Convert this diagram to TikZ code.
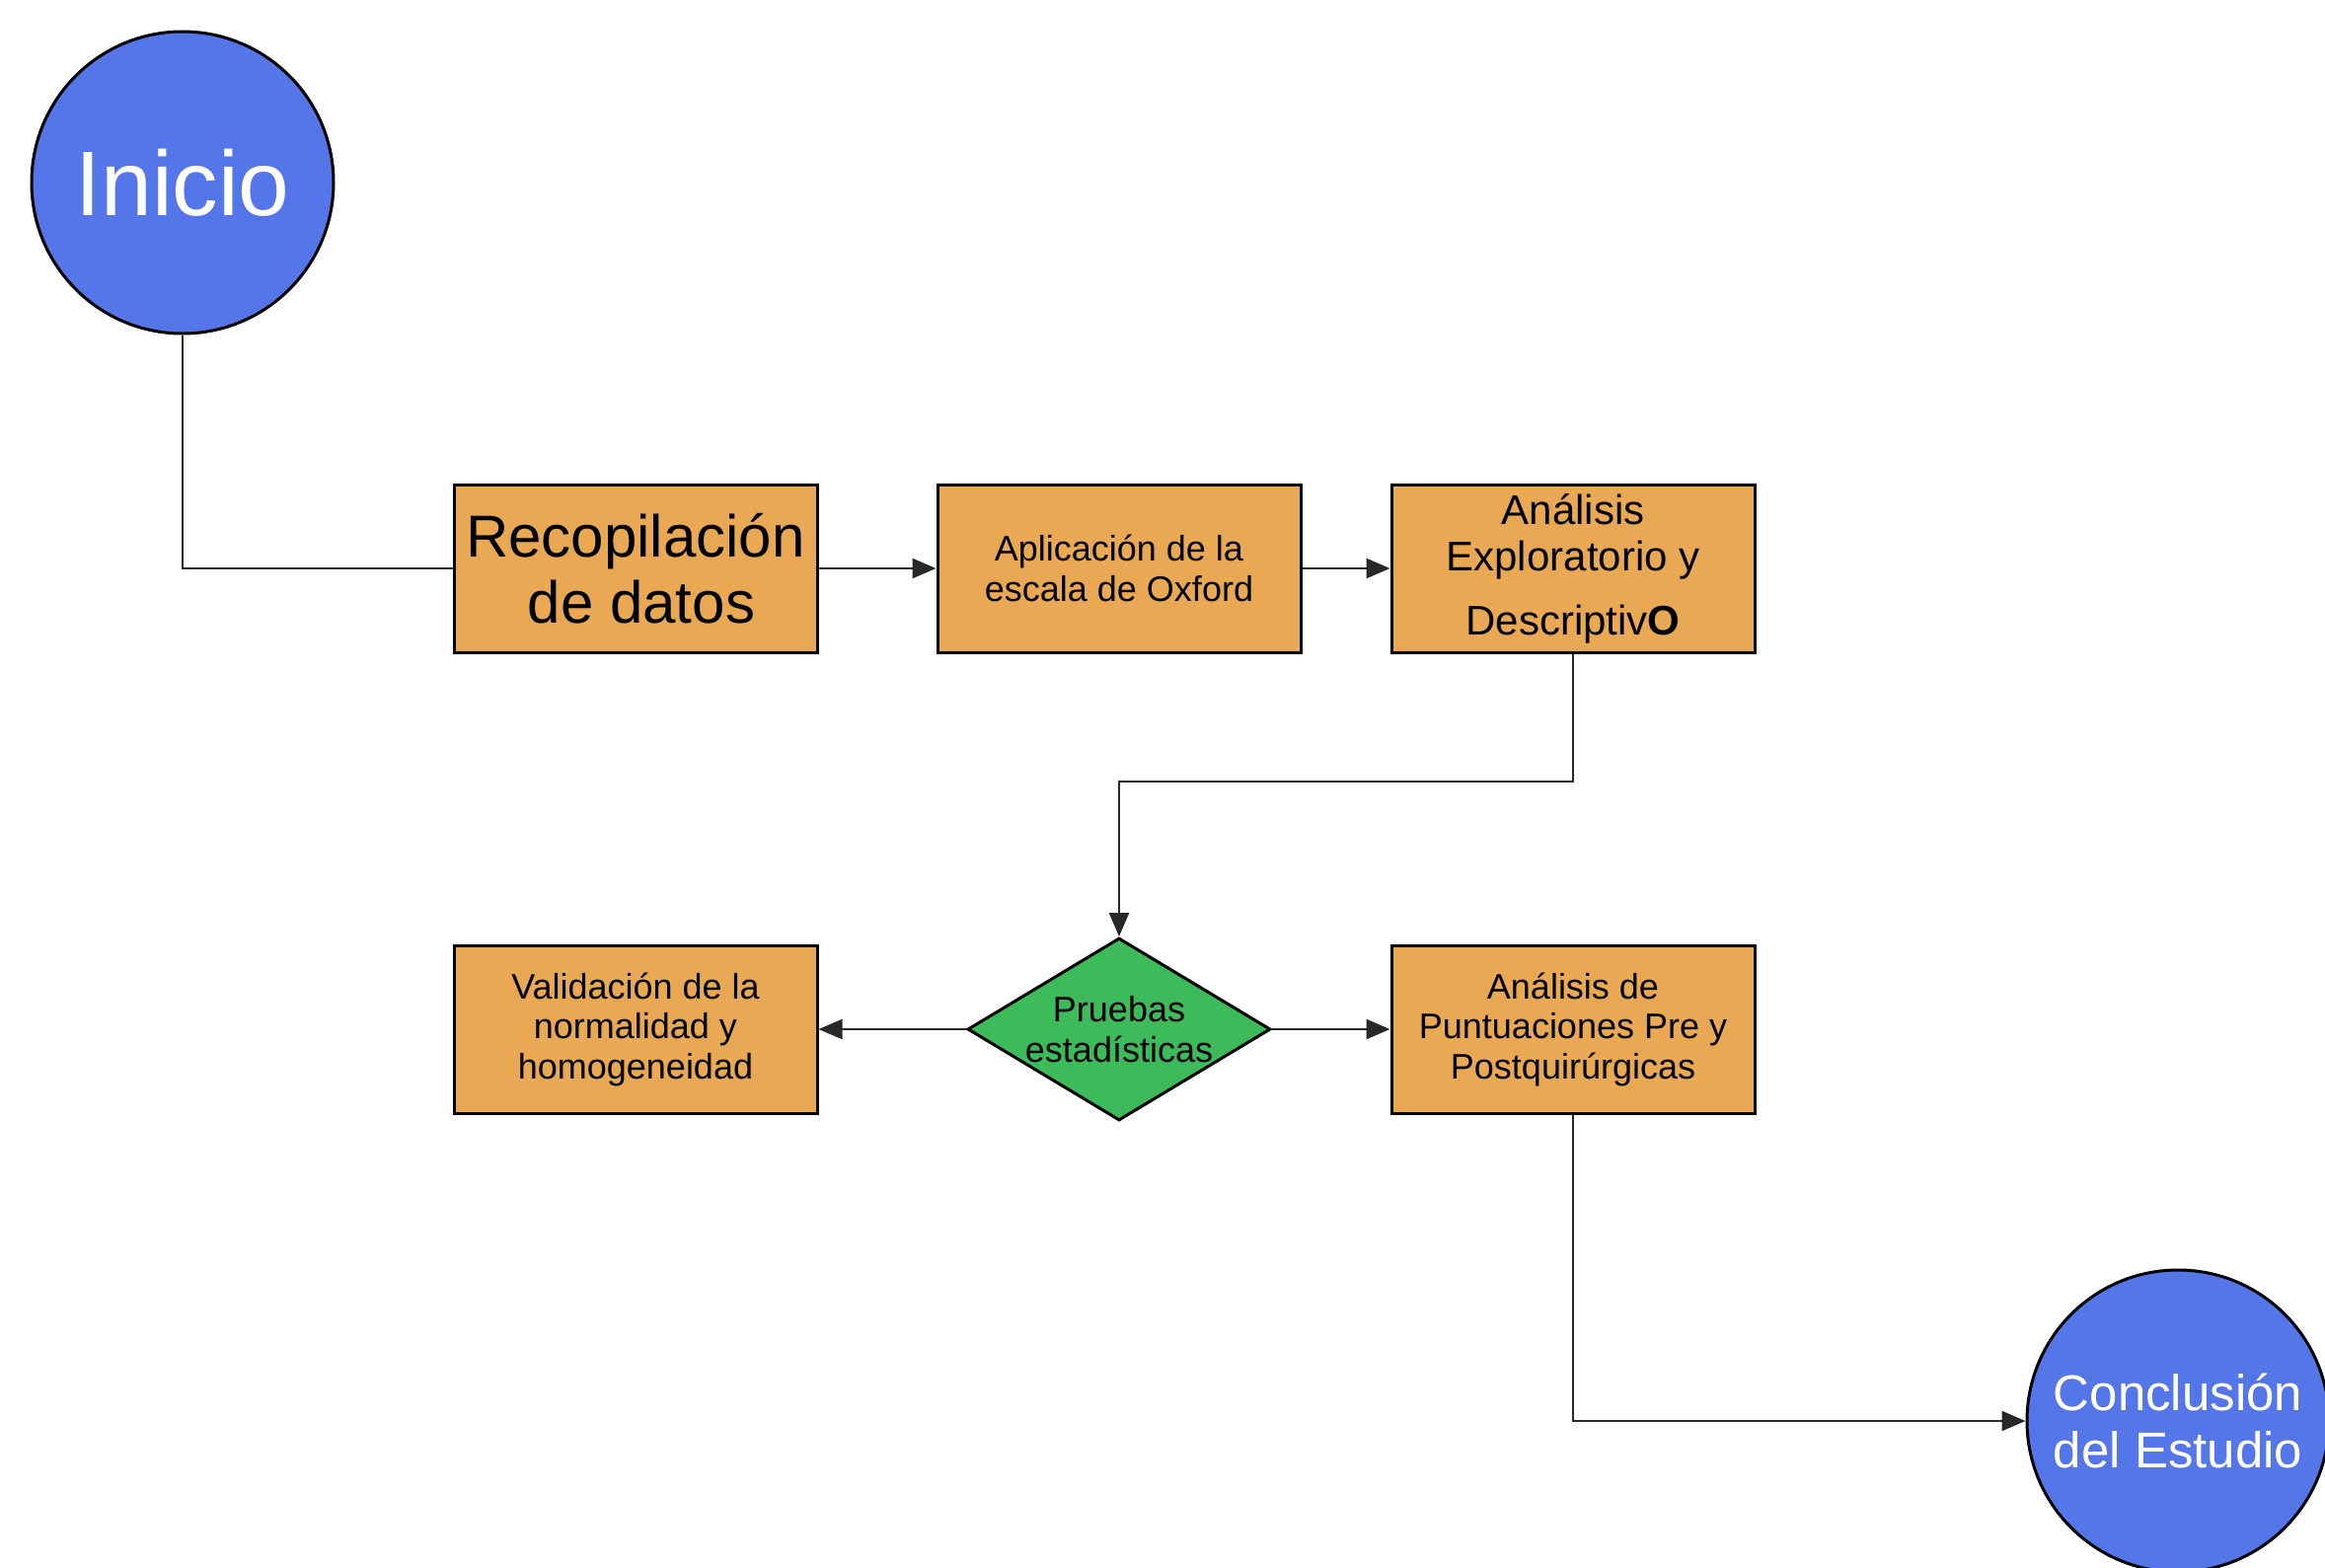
\documentclass[tikz,border=0pt]{standalone}
\usepackage{fontspec}
\setmainfont{Liberation Sans}
\usetikzlibrary{shapes.geometric,arrows.meta}
\definecolor{cblue}{RGB}{85,118,232}
\definecolor{corange}{RGB}{233,168,84}
\definecolor{cgreen}{RGB}{61,187,90}
\definecolor{cline}{RGB}{40,40,40}
\begin{document}
\begin{tikzpicture}[x=1pt,y=-1pt,
  box/.style={draw=black, line width=3pt, fill=corange, minimum width=368pt, minimum height=170pt, inner sep=0pt, align=center, text=black},
  circ/.style={circle, draw=black, line width=3pt, fill=cblue, minimum size=306pt, inner sep=0pt, align=center, text=white},
  decision/.style={diamond, draw=black, line width=3pt, fill=cgreen, minimum width=307pt, minimum height=185pt, inner sep=0pt, text=black},
  conn/.style={draw=cline, line width=2.5pt},
  arr/.style={conn, -{Triangle[length=24pt,width=20pt]}},
  fsmall/.style={font=\fontsize{36}{40.5}\selectfont}
]
\useasboundingbox (0,0) rectangle (2356,1588);
\fill[white] (0,0) rectangle (2356,1588);

\node[circ, font=\fontsize{93}{100}\selectfont] (inicio) at (185,185) {Inicio};
\node[box, font=\fontsize{60}{67}\selectfont] (recop) at (644,576) {Recopilación\\\hspace*{12pt}de datos};
\node[box, fsmall] (aplic) at (1134,576) {Aplicación de la\\escala de Oxford};
\node[box, font=\fontsize{42}{47}\selectfont] (anal) at (1594,576) {Análisis\\Exploratorio y\\[18pt]Descriptiv{\bfseries O}};
\node[box, fsmall] (valid) at (644,1043) {Validación de la\\normalidad y\\homogeneidad};
\node[decision, label={[fsmall, align=center, text=black]center:Pruebas\\estadísticas}] (prueb) at (1134,1043) {};
\node[box, fsmall] (punt) at (1594,1043) {Análisis de\\Puntuaciones Pre y\\Postquirúrgicas};
\node[circ, font=\fontsize{51}{58}\selectfont] (concl) at (2207,1440) {Conclusión\\del Estudio};

\coordinate (k1) at (1364,792);

\draw[conn] (inicio.south) |- (recop.west);
\draw[arr] (recop.east) -- (aplic.west);
\draw[arr] (aplic.east) -- (anal.west);
\draw[arr] (anal.south) |- (k1) -| (prueb.north);
\draw[arr] (prueb.west) -- (valid.east);
\draw[arr] (prueb.east) -- (punt.west);
\draw[arr] (punt.south) |- (concl.west);
\end{tikzpicture}
\end{document}
